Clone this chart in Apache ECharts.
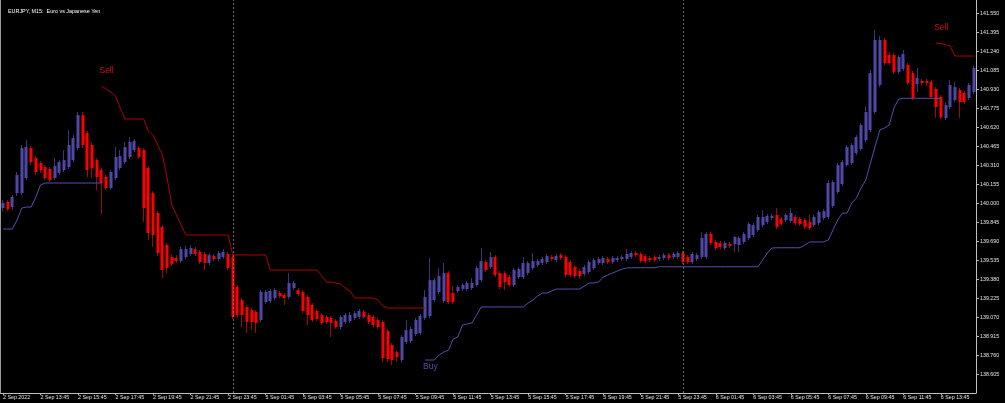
<!DOCTYPE html>
<html>
<head>
<meta charset="utf-8">
<script src="https://cdn.jsdelivr.net/npm/echarts@6/dist/echarts.min.js"></script>
<style>
html,body{margin:0;padding:0;background:#000;}
#chart{width:1005px;height:403px;}
</style>
</head>
<body>
<div id="chart"></div>
<script>
// ---- data (EURJPY M15) ----
const sessions = [
  {day: '2 Sep', first: '11:45', bars: 49},
  {day: '5 Sep', first: '00:00', bars: 96},
  {day: '6 Sep', first: '00:00', bars: 63}
];
const xTickLabels = ['2 Sep 2022','2 Sep 13:45','2 Sep 15:45','2 Sep 17:45','2 Sep 19:45','2 Sep 21:45','2 Sep 23:45',
  '5 Sep 01:45','5 Sep 03:45','5 Sep 05:45','5 Sep 07:45','5 Sep 09:45','5 Sep 11:45','5 Sep 13:45','5 Sep 15:45',
  '5 Sep 17:45','5 Sep 19:45','5 Sep 21:45','5 Sep 23:45','6 Sep 01:45','6 Sep 03:45','6 Sep 05:45','6 Sep 07:45',
  '6 Sep 09:45','6 Sep 11:45','6 Sep 13:45'];
const xTickStep = 8;
const yTicks = [138.605,138.760,138.915,139.070,139.225,139.380,139.535,139.690,139.845,140.000,
  140.155,140.310,140.465,140.620,140.775,140.930,141.085,141.240,141.395,141.550];
const separators = ['5 Sep 00:00', '6 Sep 00:00'];

const open = [139.962,140.011,139.970,140.084,140.084,140.206,140.451,140.369,140.329,140.296,
140.280,140.206,140.248,140.272,140.296,140.353,140.451,140.720,140.574,140.476,
140.353,140.272,140.215,140.125,140.206,140.288,140.337,140.378,140.435,140.451,
140.435,140.288,140.084,139.921,139.807,139.660,139.562,139.554,139.529,139.562,
139.587,139.627,139.603,139.587,139.513,139.570,139.546,139.562,139.587,139.562,
139.318,139.211,139.155,139.130,139.114,139.048,139.195,139.203,139.228,139.269,
139.252,139.236,139.309,139.293,139.277,139.236,139.171,139.122,139.089,139.073,
139.065,139.040,138.991,139.032,139.040,139.065,139.073,139.114,139.089,139.073,
139.048,139.032,138.958,138.844,138.787,138.722,138.869,138.877,138.934,138.942,
139.065,139.081,139.211,139.277,139.203,139.431,139.269,139.285,139.301,139.301,
139.309,139.334,139.374,139.521,139.480,139.562,139.431,139.431,139.399,139.334,
139.399,139.399,139.431,139.472,139.497,139.513,139.521,139.562,139.537,139.578,
139.562,139.521,139.480,139.448,139.423,139.440,139.472,139.513,139.513,139.546,
139.521,139.537,139.546,139.546,139.562,139.595,139.587,139.570,139.554,139.562,
139.546,139.554,139.578,139.562,139.562,139.595,139.562,139.521,139.546,139.562,
139.562,139.750,139.685,139.676,139.636,139.668,139.668,139.660,139.685,139.717,
139.742,139.782,139.823,139.848,139.881,139.905,139.872,139.864,139.856,139.889,
139.872,139.864,139.848,139.823,139.840,139.881,139.889,139.978,140.092,140.158,
140.312,140.329,140.411,140.443,140.516,140.598,140.745,140.966,141.333,141.210,
141.210,141.072,141.096,141.129,141.063,140.974,140.998,140.998,140.990,140.933,
140.868,140.696,140.786,140.843,140.925,140.900,140.860,140.908];
const close = [140.003,139.953,140.052,140.231,140.451,140.459,140.337,140.256,140.272,140.206,
140.190,140.304,140.337,140.353,140.476,140.533,140.720,140.476,140.272,140.288,
140.215,140.166,140.125,140.256,140.378,140.386,140.459,140.500,140.508,140.378,
139.962,139.758,139.742,139.595,139.456,139.472,139.505,139.529,139.627,139.627,
139.636,139.587,139.521,139.513,139.578,139.546,139.595,139.603,139.472,139.073,
139.089,139.089,139.032,139.032,139.024,139.277,139.277,139.285,139.293,139.244,
139.228,139.350,139.350,139.260,139.122,139.089,139.048,139.057,139.024,139.032,
139.024,138.991,139.073,139.089,139.089,139.105,139.122,139.073,139.032,139.007,
138.991,138.738,138.730,138.722,138.746,138.910,138.966,138.975,139.048,139.081,
139.236,139.374,139.374,139.407,139.431,139.195,139.195,139.318,139.334,139.350,
139.350,139.472,139.529,139.456,139.562,139.416,139.318,139.358,139.334,139.456,
139.464,139.513,139.513,139.529,139.529,139.546,139.570,139.546,139.570,139.554,
139.416,139.416,139.407,139.407,139.480,139.521,139.537,139.546,139.554,139.521,
139.554,139.554,139.562,139.587,139.595,139.578,139.529,139.529,139.537,139.537,
139.562,139.578,139.554,139.587,139.595,139.521,139.521,139.587,139.578,139.717,
139.750,139.676,139.636,139.644,139.676,139.652,139.726,139.717,139.750,139.832,
139.823,139.889,139.889,139.897,139.897,139.807,139.832,139.905,139.921,139.840,
139.832,139.807,139.799,139.889,139.929,139.937,140.166,140.174,140.312,140.337,
140.459,140.476,140.541,140.639,140.745,141.063,141.333,141.333,141.145,141.145,
141.072,141.194,141.218,140.982,140.860,141.023,140.982,140.982,140.868,140.786,
140.704,140.802,140.966,140.949,140.827,140.827,140.966,141.104];
const low = [139.937,139.937,139.953,140.060,140.068,140.190,140.312,140.231,140.248,140.190,
140.174,140.190,140.231,140.256,140.280,140.337,140.435,140.451,140.215,140.206,
140.108,139.913,140.108,140.108,140.190,140.272,140.321,140.361,140.419,140.361,
139.848,139.701,139.644,139.570,139.391,139.431,139.489,139.513,139.513,139.546,
139.570,139.570,139.505,139.456,139.497,139.529,139.529,139.546,139.456,139.057,
139.065,138.991,138.942,138.966,138.942,139.032,139.179,139.187,139.211,139.228,
139.171,139.220,139.293,139.244,139.105,139.007,139.032,139.040,139.007,139.016,
138.910,138.975,138.975,139.016,139.024,139.048,139.057,139.057,139.016,138.991,
138.975,138.706,138.706,138.681,138.706,138.697,138.853,138.861,138.918,138.926,
139.048,139.065,139.195,139.260,139.187,139.179,139.179,139.269,139.285,139.285,
139.293,139.318,139.358,139.440,139.464,139.399,139.301,139.293,139.318,139.318,
139.383,139.383,139.416,139.456,139.480,139.497,139.505,139.529,139.521,139.537,
139.399,139.399,139.391,139.383,139.407,139.423,139.456,139.497,139.497,139.505,
139.505,139.521,139.529,139.529,139.546,139.562,139.513,139.513,139.521,139.521,
139.529,139.537,139.537,139.546,139.546,139.505,139.505,139.505,139.529,139.546,
139.546,139.660,139.619,139.627,139.619,139.636,139.603,139.603,139.668,139.701,
139.725,139.766,139.807,139.832,139.864,139.791,139.815,139.848,139.840,139.823,
139.815,139.791,139.782,139.807,139.823,139.864,139.872,139.962,140.076,140.141,
140.296,140.312,140.394,140.427,140.500,140.582,140.729,140.949,141.129,141.129,
141.055,141.055,141.080,140.966,140.843,140.908,140.966,140.957,140.851,140.696,
140.688,140.680,140.770,140.827,140.696,140.810,140.843,140.892];
const high = [140.027,140.027,140.068,140.256,140.476,140.516,140.468,140.386,140.345,140.312,
140.296,140.369,140.353,140.435,140.598,140.557,140.745,140.745,140.590,140.500,
140.369,140.288,140.231,140.272,140.459,140.435,140.500,140.541,140.525,140.468,
140.451,140.304,140.100,139.937,139.823,139.676,139.587,139.578,139.644,139.652,
139.660,139.644,139.619,139.603,139.595,139.587,139.611,139.627,139.603,139.578,
139.334,139.228,139.171,139.146,139.130,139.293,139.293,139.301,139.309,139.285,
139.269,139.431,139.366,139.309,139.293,139.252,139.187,139.138,139.105,139.089,
139.081,139.057,139.089,139.105,139.114,139.122,139.138,139.130,139.105,139.089,
139.065,139.048,138.975,138.861,138.803,138.926,139.048,138.991,139.065,139.097,
139.293,139.554,139.391,139.472,139.513,139.448,139.326,139.334,139.350,139.366,
139.391,139.489,139.636,139.537,139.603,139.578,139.448,139.448,139.416,139.472,
139.480,139.562,139.529,139.595,139.546,139.562,139.587,139.578,139.587,139.595,
139.578,139.537,139.497,139.464,139.497,139.537,139.554,139.562,139.570,139.562,
139.570,139.570,139.578,139.627,139.611,139.611,139.603,139.587,139.570,139.578,
139.578,139.595,139.595,139.603,139.611,139.611,139.578,139.603,139.595,139.766,
139.766,139.766,139.701,139.693,139.693,139.685,139.734,139.734,139.766,139.848,
139.840,139.905,139.945,139.913,139.913,139.962,139.889,139.921,139.962,139.905,
139.889,139.881,139.905,139.905,139.945,139.953,140.190,140.190,140.329,140.353,
140.476,140.492,140.557,140.656,140.794,141.088,141.414,141.365,141.349,141.235,
141.227,141.210,141.251,141.145,141.080,141.104,141.015,141.015,141.006,140.949,
140.884,140.819,141.006,140.990,140.941,140.917,140.982,141.121];

// indicator lines: start bar index + values per bar
const buySegments = [
  {start: 0, values: [139.791,139.791,139.791,139.864,139.962,139.970,139.970,140.052,140.150,
    140.166,140.166,140.166,140.166,140.166,140.166,140.166,140.166,140.166,140.166,140.166,140.166,140.166]},
  {start: 90, values: [138.722,138.722,138.722,138.763,138.787,138.803,138.893,138.910,139.008,139.016,
    139.024,139.089,139.155,139.155,139.155,139.155,139.155,139.155,139.155,139.155,
    139.155,139.155,139.187,139.211,139.244,139.269,139.269,139.285,139.301,139.301,
    139.301,139.301,139.301,139.301,139.326,139.350,139.350,139.358,139.399,139.416,
    139.432,139.448,139.464,139.473,139.475,139.475,139.475,139.475,139.475,139.475,
    139.483,139.483,139.483,139.483,139.483,139.483,139.483,139.483,139.483,139.483,
    139.483,139.483,139.483,139.483,139.483,139.483,139.483,139.483,139.483,139.483,
    139.483,139.483,139.538,139.595,139.636,139.638,139.638,139.638,139.638,139.638,
    139.638,139.660,139.685,139.685,139.685,139.685,139.701,139.783,139.864,139.921,
    139.921,140.003,140.044,140.125,140.191,140.329,140.468,140.598,140.615,140.639,
    140.778,140.851,140.857,140.857,140.857,140.857,140.857,140.857,140.857,140.857,140.857]}
];
const sellSegments = [
  {start: 21, values: [140.957,140.933,140.908,140.876,140.778,140.688,140.688,140.688,140.688,140.688,
    140.590,140.557,140.476,140.394,140.207,139.987,139.905,139.823,139.742,139.742,
    139.742,139.742,139.742,139.742,139.742,139.742,139.742,139.742,139.579,139.579,
    139.579,139.579,139.579,139.579,139.579,139.579,139.456,139.456,139.456,139.456,
    139.456,139.456,139.456,139.456,139.456,139.456,139.456,139.407,139.358,139.358,
    139.350,139.342,139.309,139.285,139.228,139.228,139.228,139.228,139.228,139.211,
    139.163,139.146,139.146,139.146,139.146,139.146,139.146,139.146,139.146,139.146]},
  {start: 199, values: [141.308,141.304,141.296,141.284,141.202,141.202,141.202,141.202,141.202]}
];
const signalLabels = [
  {series: 'sell', bar: 21, text: 'Sell'},
  {series: 'buy', bar: 90, text: 'Buy'},
  {series: 'sell', bar: 199, text: 'Sell'}
];

// ---- build ----
const categories = [];
sessions.forEach(s => {
  let [h, m] = s.first.split(':').map(Number);
  let t = h * 60 + m;
  for (let k = 0; k < s.bars; k++) {
    const mm = t + 15 * k;
    const hh = String(Math.floor(mm / 60)).padStart(2, '0');
    const mi = String(mm % 60).padStart(2, '0');
    categories.push(s.day + ' ' + hh + ':' + mi);
  }
});
const N = categories.length;
const ohlc = open.map((o, i) => [o, close[i], low[i], high[i]]);
const bodies = open.map((o, i) => [o, close[i], Math.min(o, close[i]), Math.max(o, close[i])]);
function segArray(segs) {
  const arr = new Array(N).fill(null);
  segs.forEach(s => s.values.forEach((v, k) => { arr[s.start + k] = v; }));
  return arr;
}
const buyLine = segArray(buySegments);
const sellLine = segArray(sellSegments);

const BULL = '#5048a6', BEAR = '#ff0000';
const WICK_UP = '#3a3680', WICK_DN = '#9a0c0c';
const BUY_C = '#5550ac', SELL_C = '#b00000';
const FONT = 'Liberation Sans, Arial, sans-serif';
const tickFn = (i) => i % xTickStep === 0;

function markPointsFor(name, lineArr, color) {
  return signalLabels.filter(l => l.series === name).map(l => {
    const up = name === 'sell';
    return {
      coord: [categories[l.bar], lineArr[l.bar]],
      symbol: 'circle', symbolSize: 0,
      label: {
        show: true, formatter: l.text, color: color,
        fontFamily: FONT, fontSize: 8.5,
        position: up ? 'top' : 'bottom', distance: up ? 11 : 2,
        align: 'left', offset: [-2, 0]
      }
    };
  });
}

const chart = echarts.init(document.getElementById('chart'), null, {renderer: 'canvas'});
chart.setOption({
  backgroundColor: '#000000',
  animation: false,
  title: {
    text: 'EURJPY, M15:  Euro vs Japanese Yen',
    left: 3, top: 4,
    textStyle: {color: '#ffffff', fontSize: 5.4, fontWeight: 'normal', fontFamily: FONT}
  },
  grid: {left: 0, right: 29, top: 0, bottom: 10},
  xAxis: {
    type: 'category', data: categories, boundaryGap: true,
    axisLine: {show: true, lineStyle: {color: '#bdbdbd', width: 1}},
    axisTick: {show: true, interval: tickFn, alignWithLabel: true, length: 2, lineStyle: {color: '#bdbdbd'}},
    axisLabel: {
      interval: tickFn, align: 'left', margin: 2, color: '#e6e6e6', fontSize: 5.3, fontFamily: FONT,
      formatter: (v, i) => xTickLabels[Math.round(i / xTickStep)] || ''
    },
    splitLine: {show: false}
  },
  yAxis: [{
    type: 'value', position: 'right', min: 138.453, max: 141.659,
    splitLine: {show: false},
    axisLine: {show: true, lineStyle: {color: '#bdbdbd', width: 1}},
    axisTick: {show: true, length: 3, customValues: yTicks, lineStyle: {color: '#bdbdbd'}},
    axisLabel: {customValues: yTicks, formatter: v => v.toFixed(3), color: '#e6e6e6',
      fontSize: 5.3, fontFamily: FONT, margin: 4}
  }, {
    type: 'value', position: 'left', min: 138.453, max: 141.659,
    splitLine: {show: false}, axisTick: {show: false}, axisLabel: {show: false},
    axisLine: {show: true, lineStyle: {color: '#9a9a9a', width: 1}}
  }],
  series: [
    {
      name: 'wicks', type: 'candlestick', data: ohlc, barWidth: 1, z: 2,
      itemStyle: {color: WICK_UP, color0: WICK_DN, borderColor: WICK_UP, borderColor0: WICK_DN, borderWidth: 1},
      markLine: {
        silent: true, symbol: ['none', 'none'], label: {show: false},
        lineStyle: {color: '#6e6e6e', type: [2, 2], width: 1},
        data: separators.map(s => ({xAxis: s}))
      }
    },
    {
      name: 'bodies', type: 'candlestick', data: bodies, barWidth: 3.5, z: 3,
      itemStyle: {color: BULL, color0: BEAR, borderColor: BULL, borderColor0: BEAR, borderWidth: 0}
    },
    {
      name: 'buy', type: 'line', data: buyLine, z: 4, symbol: 'none', connectNulls: false,
      lineStyle: {color: BUY_C, width: 1}, itemStyle: {color: BUY_C},
      markPoint: {data: markPointsFor('buy', buyLine, BUY_C)}
    },
    {
      name: 'sell', type: 'line', data: sellLine, z: 4, symbol: 'none', connectNulls: false,
      lineStyle: {color: SELL_C, width: 1}, itemStyle: {color: SELL_C},
      markPoint: {data: markPointsFor('sell', sellLine, '#cc1010')}
    }
  ]
});
</script>
</body>
</html>
